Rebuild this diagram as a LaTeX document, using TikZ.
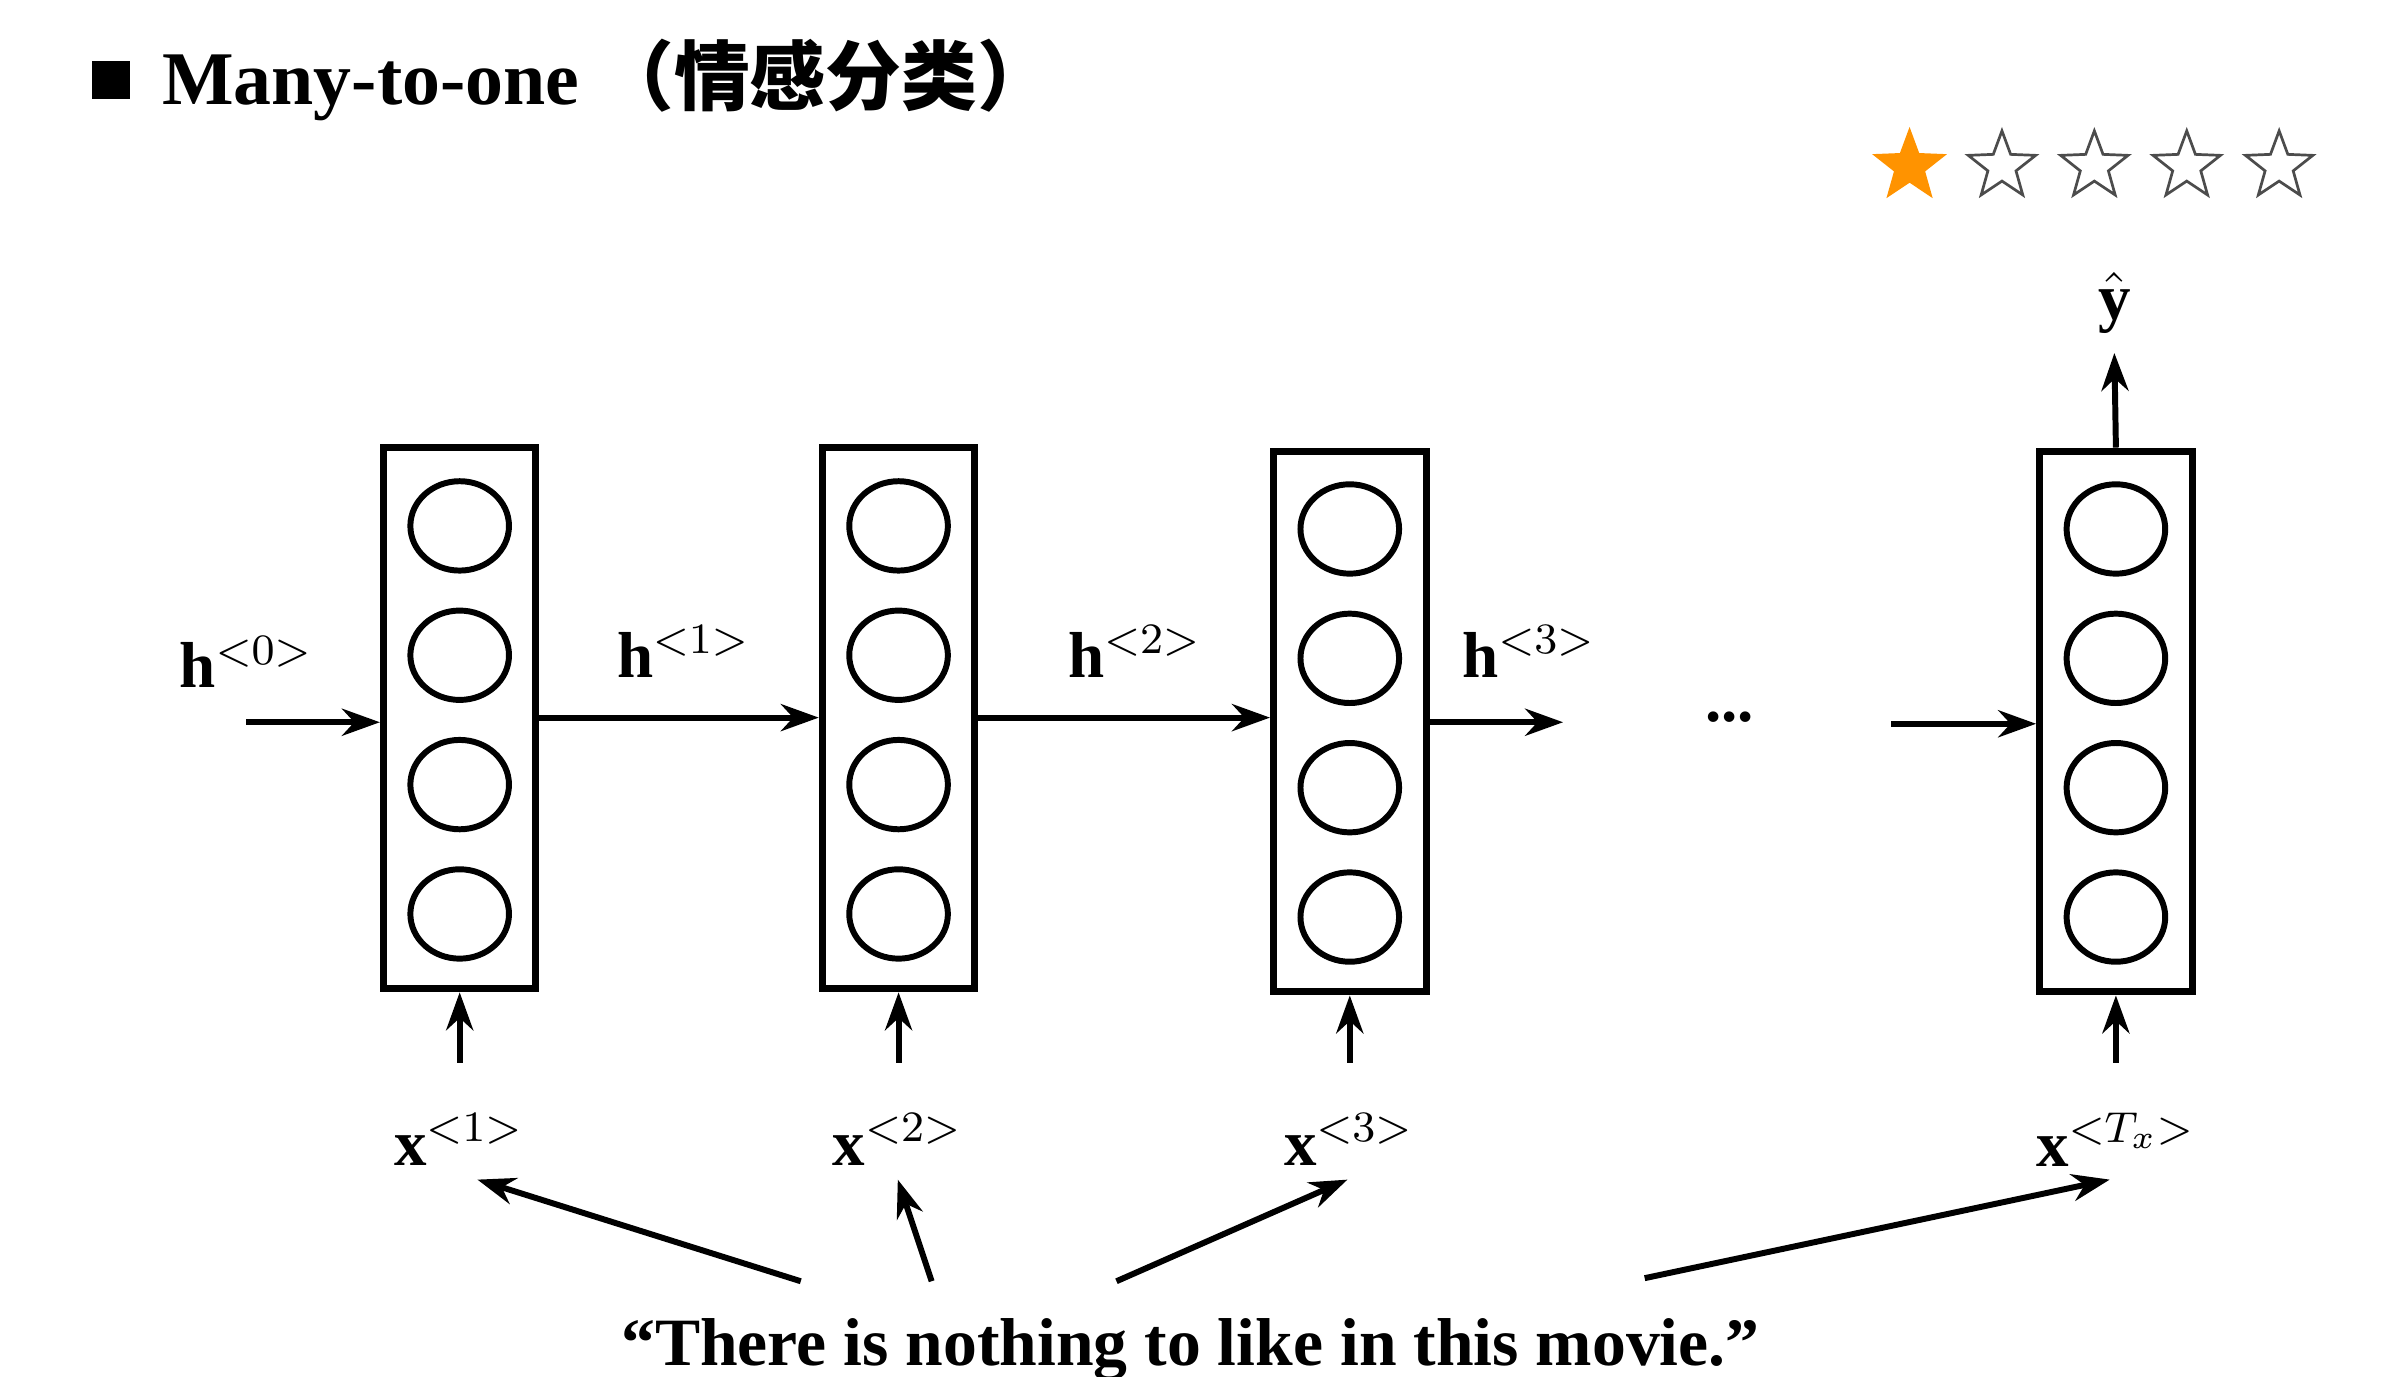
\documentclass[tikz,border=0pt]{standalone}
\usepackage{fontspec}
\setmainfont{Liberation Serif}
\newfontfamily\cjk{Noto Sans CJK SC}
\usepackage{amsmath}
\usetikzlibrary{shapes.geometric,arrows.meta}
\begin{document}
\begin{tikzpicture}[x=0.01cm,y=-0.01cm,
  cell/.style={draw,line width=1.3pt,minimum width=0.99cm,minimum height=3.51cm,inner sep=0},
  unit/.style={draw,line width=1.1pt,ellipse,minimum width=0.64cm,minimum height=0.58cm,inner sep=0},
  arr/.style={-{Stealth[length=7pt,width=5pt]},line width=1.1pt},
  lab/.style={font=\fontsize{12}{14}\selectfont},
  star5/.style={star,star points=5,star point ratio=2.4,minimum size=0.46cm,inner sep=0,line width=0.5pt}]
\useasboundingbox (0,0) rectangle (1552,894);
% title
\node[fill=black,minimum size=0.25cm,inner sep=0] (sq) at (72,52) {};
\node[anchor=west,font=\fontsize{14}{17}\selectfont\bfseries] (title) at (93,52) {Many-to-one {\cjk （情感分类）}};
% stars
\node[star5,fill=orange!85!yellow,draw=orange!85!yellow] (s1) at (1240,108) {};
\foreach \i in {2,...,5}{\node[star5,draw=black!70] (s\i) at ({1240+60*(\i-1)},108) {};}
% boxes
\foreach \n/\x/\y in {1/298.5/466.5,2/583.5/466.5,3/876.5/468.5,4/1374/468.5}{
  \node[cell] (b\n) at (\x,\y) {};
  \foreach \k/\dy in {1/-125,2/-41,3/43,4/127}{\node[unit] (c\n\k) at (\x,\y+\dy) {};}
  \coordinate (in\n) at (\x,690);
  \draw[arr] (in\n) -- (b\n.south);
}
\node[lab] (x1) at (298,740) {$\mathbf{x}^{<1>}$};
\node[lab] (x2) at (583,740) {$\mathbf{x}^{<2>}$};
\node[lab] (x3) at (876,740) {$\mathbf{x}^{<3>}$};
\node[lab] (x4) at (1374,740) {$\mathbf{x}^{<T_x>}$};
% recurrent
\coordinate (h0s) at (160,469);
\draw[arr] (h0s) -- (b1.west|-h0s);
\node[lab] (h0) at (160,430) {$\mathbf{h}^{<0>}$};
\draw[arr] (b1.east|-0,466) -- (b2.west|-0,466);
\node[lab] (h1) at (444,423) {$\mathbf{h}^{<1>}$};
\draw[arr] (b2.east|-0,466) -- (b3.west|-0,466);
\node[lab] (h2) at (737,423) {$\mathbf{h}^{<2>}$};
\coordinate (h3e) at (1015,469);
\draw[arr] (b3.east|-h3e) -- (h3e);
\node[lab] (h3) at (993,423) {$\mathbf{h}^{<3>}$};
\node[font=\bfseries\fontsize{12}{14}\selectfont] (dots) at (1123,466) {...};
\coordinate (h4s) at (1228,470);
\draw[arr] (h4s) -- (b4.west|-h4s);
% output
\node[lab] (y) at (1373,197) {$\hat{\mathbf{y}}$};
\draw[arr] (b4.north) -- (y.south);
% sentence
\node[font=\fontsize{12.5}{15}\selectfont\bfseries] (sent) at (773,876) {“There is nothing to like in this movie.”};
\coordinate (p1) at (520,832);\coordinate (p2) at (605,832);
\coordinate (p3) at (725,832);\coordinate (p4) at (1068,830);
\coordinate (q1) at (310,766);\coordinate (q2) at (583,766);
\coordinate (q3) at (875,766);\coordinate (q4) at (1370,766);
\foreach \i in {1,...,4}{\draw[arr] (p\i) -- (q\i);}
\end{tikzpicture}
\end{document}
